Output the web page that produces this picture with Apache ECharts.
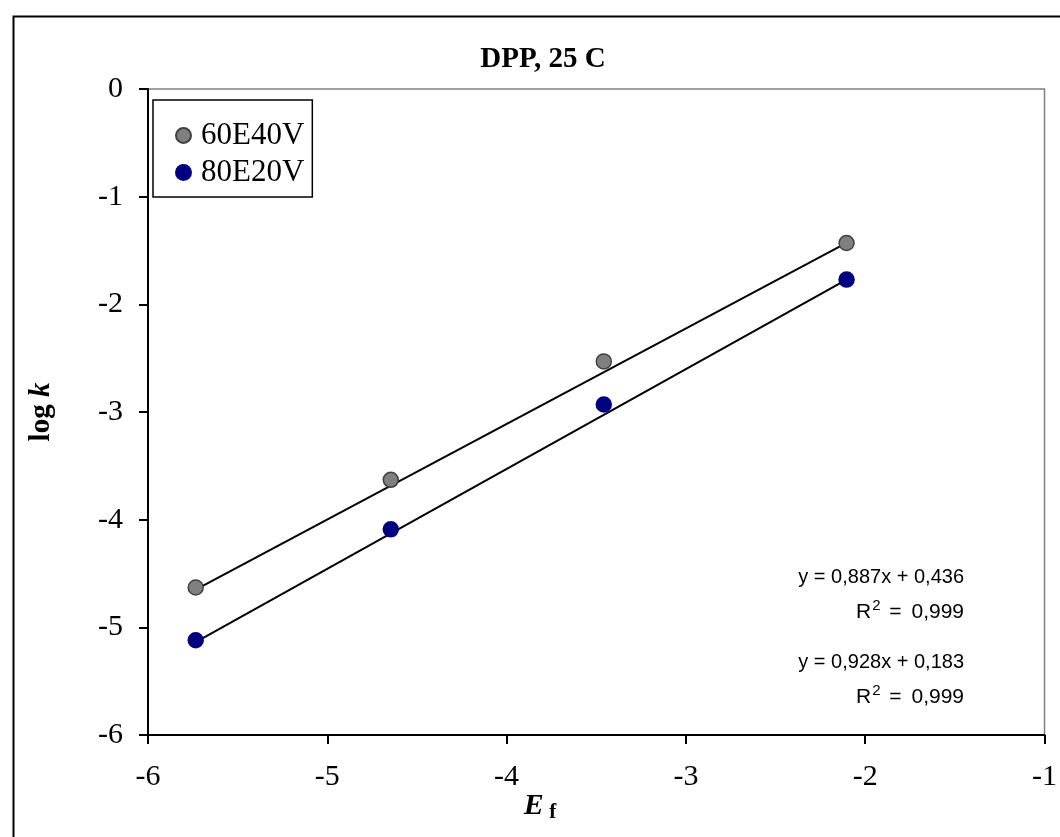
<!DOCTYPE html>
<html>
<head>
<meta charset="utf-8">
<script src="https://cdn.jsdelivr.net/npm/echarts@6/dist/echarts.min.js"></script>
<style>html,body{margin:0;padding:0;background:#fff;}#c{width:1060px;height:837px;}</style>
</head>
<body>
<div id="c"></div>
<script>
const seriesNames = ['60E40V', '80E20V'];
const efValues = [-5.734, -4.646, -3.458, -2.104];
const logk60E40V = [-4.63, -3.63, -2.53, -1.43];
const logk80E20V = [-5.12, -4.09, -2.93, -1.77];
const slopes = [0.887, 0.928];
const intercepts = [0.436, 0.183];
const xTicks = [-6, -5, -4, -3, -2, -1];
const yTicks = [0, -1, -2, -3, -4, -5, -6];
const equationTexts = ['y = 0,887x + 0,436', 'y = 0,928x + 0,183'];
const r2Texts = ['0,999', '0,999'];

const chart = echarts.init(document.getElementById('c'));
const serif = 'Liberation Serif, Times New Roman, serif';
const sans = 'Liberation Sans, Arial, sans-serif';
const colors = ['#808080', '#000080'];
const yData = [logk60E40V, logk80E20V];

function trend(i) {
  const x0 = Math.min(...efValues), x1 = Math.max(...efValues);
  return [[x0, slopes[i] * x0 + intercepts[i]], [x1, slopes[i] * x1 + intercepts[i]]];
}

const series = [];
for (let i = 0; i < 2; i++) {
  series.push({
    type: 'line', data: trend(i), symbol: 'none', silent: true,
    lineStyle: { color: '#000', width: 2 }, z: 2
  });
}
for (let i = 0; i < 2; i++) {
  series.push({
    name: seriesNames[i], type: 'scatter',
    data: efValues.map((x, j) => [x, yData[i][j]]),
    symbol: 'circle', symbolSize: 15,
    itemStyle: { color: colors[i], borderColor: i === 0 ? '#404040' : '#000080', borderWidth: 1.5, opacity: 1 },
    z: 3
  });
}

const annot = [];
const eqY = [579, 664];
for (let i = 0; i < 2; i++) {
  annot.push({
    type: 'text', right: 96, top: eqY[i] - 12,
    style: { text: equationTexts[i], font: '20px ' + sans, fill: '#000', textAlign: 'right' }
  });
  annot.push({
    type: 'text', right: 96, top: eqY[i] + 19,
    style: {
      text: '{a|R}{s|2}{e| = }{a|' + r2Texts[i] + '}',
      rich: {
        a: { fontFamily: sans, fontSize: 21, color: '#000', verticalAlign: 'bottom' },
        e: { fontFamily: sans, fontSize: 21, color: '#000', verticalAlign: 'bottom', padding: [0, 4, 0, 2] },
        s: { fontFamily: sans, fontSize: 15, color: '#000', verticalAlign: 'top', padding: [0, 1, 10, 1] }
      }
    }
  });
}

chart.setOption({
  backgroundColor: '#fff',
  animation: false,
  legend: {
    data: seriesNames, orient: 'vertical', left: 153, top: 100,
    backgroundColor: '#fff', borderColor: '#000', borderWidth: 1.5,
    padding: [20, 8, 9, 22], itemGap: 6, itemWidth: 15, itemHeight: 15,
    icon: 'circle',
    textStyle: { fontFamily: serif, fontSize: 31, color: '#000', padding: [0, 0, 0, 5] }
  },
  grid: { left: 148, right: 11, top: 89, bottom: 102, show: true, borderColor: '#808080', borderWidth: 1.5, backgroundColor: '#fff' },
  xAxis: {
    type: 'value', min: -6, max: -1, interval: 1,
    axisLine: { show: true, onZero: false, lineStyle: { color: '#000', width: 2 } },
    axisTick: { show: true, inside: false, length: 9, lineStyle: { color: '#000', width: 2 } },
    axisLabel: { fontFamily: serif, fontSize: 30, color: '#000', margin: 27,
      formatter: v => xTicks.includes(v) ? String(v) : '' },
    splitLine: { show: false }
  },
  yAxis: {
    type: 'value', min: -6, max: 0, interval: 1,
    axisLine: { show: true, onZero: false, lineStyle: { color: '#000', width: 2 } },
    axisTick: { show: true, inside: false, length: 9, lineStyle: { color: '#000', width: 2 } },
    axisLabel: { fontFamily: serif, fontSize: 30, color: '#000', margin: 25,
      formatter: v => yTicks.includes(v) ? String(v) : '' },
    splitLine: { show: false },
    name: '{a|log }{b|k}', nameLocation: 'middle', nameGap: 92, nameRotate: 90,
    nameTextStyle: {
      rich: {
        a: { fontFamily: serif, fontSize: 29, fontWeight: 'bold', color: '#000' },
        b: { fontFamily: serif, fontSize: 29, fontWeight: 'bold', fontStyle: 'italic', color: '#000' }
      }
    }
  },
  graphic: [
    { type: 'rect', left: 11, top: 14, shape: { width: 1100, height: 900 }, style: { fill: 'none', stroke: '#000', lineWidth: 2 }, z: 100, silent: true },
    { type: 'text', x: 543, y: 60, style: { text: 'DPP, 25 C', font: 'bold 29px ' + serif, fill: '#000', textAlign: 'center', textVerticalAlign: 'middle' } },
    { type: 'text', x: 540, y: 806, style: {
        text: '{e|E}{f| f}', textAlign: 'center', textVerticalAlign: 'middle',
        rich: {
          e: { fontFamily: serif, fontSize: 30, fontWeight: 'bold', fontStyle: 'italic', color: '#000' },
          f: { fontFamily: serif, fontSize: 21, fontWeight: 'bold', color: '#000', padding: [14, 0, 0, 0] }
        } } },
    ...annot
  ],
  series
});
</script>
</body>
</html>
